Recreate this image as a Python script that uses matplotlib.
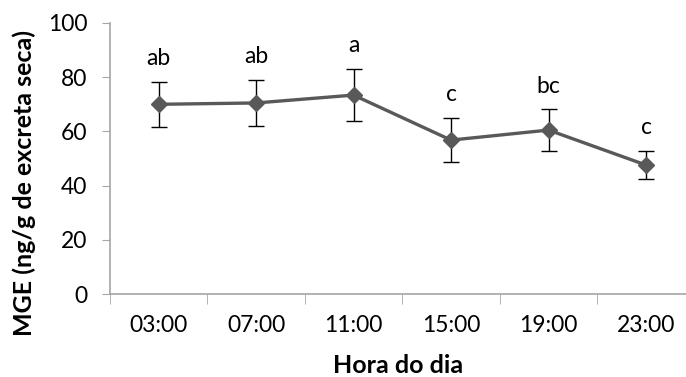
import matplotlib
matplotlib.use("Agg")
import matplotlib.pyplot as plt
import numpy as np

plt.rcParams['font.family'] = ['Lato', 'DejaVu Sans']

horas = ["03:00", "07:00", "11:00", "15:00", "19:00", "23:00"]
mge = [70.0, 70.5, 73.4, 56.8, 60.5, 47.6]
erro = [8.2, 8.6, 9.7, 8.1, 7.7, 5.3]
letras = ["ab", "ab", "a", "c", "bc", "c"]

fig = plt.figure(figsize=(6.86, 3.77), dpi=100)
ax = fig.add_axes([0.160, 0.220, 0.84, 0.719])

x = np.arange(len(horas))
ax.errorbar(x, mge, yerr=erro, fmt="none", ecolor="black", elinewidth=1,
            capsize=6, capthick=1, zorder=2)
ax.plot(x, mge, color="#595959", lw=2.4, marker="D", markersize=8,
        markerfacecolor="#595959", markeredgecolor="#595959", zorder=3)

for xi, v, e, l in zip(x, mge, erro, letras):
    ax.annotate(l, (xi, v + e), xytext=(0, 12), textcoords="offset points",
                ha="center", va="baseline", fontsize=16.5)

ax.set_ylim(0, 100)
ax.set_yticks(range(0, 101, 20))
ax.set_xlim(-0.5, 5.41)
ax.set_xticks(x)
ax.set_xticklabels(horas)
ax.set_xticks(np.arange(-0.5, 5.5, 1), minor=True)
ax.tick_params(axis="x", which="major", length=0, pad=15, labelsize=16.5)
ax.tick_params(axis="x", which="minor", length=7, color="#a6a6a6", direction="out")
ax.tick_params(axis="y", length=6, color="#a6a6a6", labelsize=16.5, pad=10)

for s in ["top", "right"]:
    ax.spines[s].set_visible(False)
for s in ["left", "bottom"]:
    ax.spines[s].set_color("#a6a6a6")
    ax.spines[s].set_linewidth(1.2)

ax.set_ylabel("MGE (ng/g de excreta seca)", fontsize=18, fontweight="bold", va="center")
ax.yaxis.set_label_coords(-0.148, 0.41)
ax.set_xlabel("Hora do dia", fontsize=18, fontweight="bold", va="center")
ax.xaxis.set_label_coords(0.5, -0.262)

fig.savefig("out.png", dpi=100)
